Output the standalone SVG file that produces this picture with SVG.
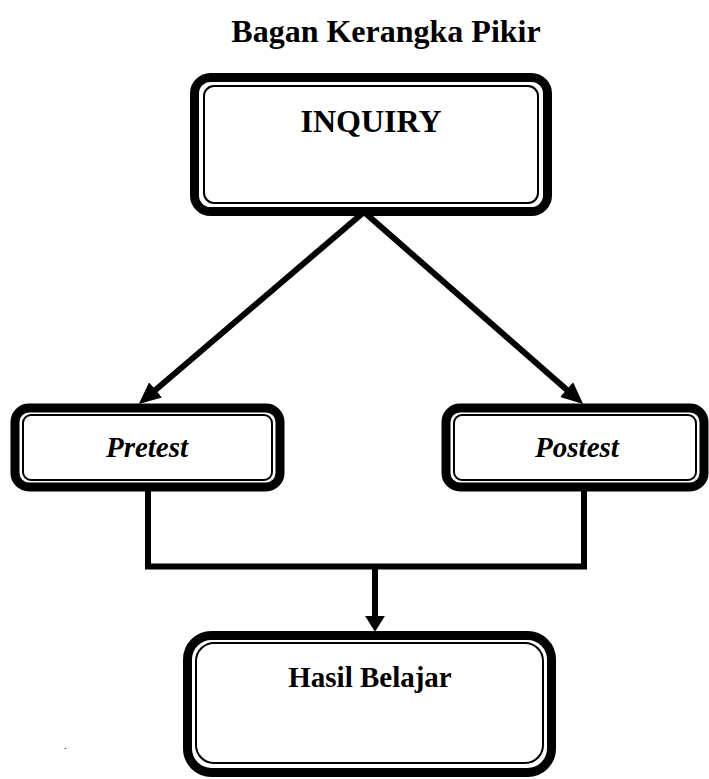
<svg xmlns="http://www.w3.org/2000/svg" width="709" height="779" viewBox="0 0 709 779">
<style>
  .outer { fill: #fff; stroke: #000; stroke-width: 9; }
  .inner { fill: none; stroke: #000; stroke-width: 2; }
  .lbl { font-family: "Liberation Serif", "Times New Roman", serif; font-weight: bold; font-size: 29px; fill: #000; text-anchor: middle; }
  .big { font-size: 32px; }
  .it { font-style: italic; }
  .conn { fill: none; stroke: #000; stroke-width: 6; }
</style>
<defs>
  <marker id="ah" markerUnits="userSpaceOnUse" markerWidth="22" markerHeight="20" viewBox="0 0 20 18" refX="4" refY="9" orient="auto">
    <path d="M0,0 L20,9 L0,18 z" fill="#000"/>
  </marker>
  <marker id="ahd" markerUnits="userSpaceOnUse" markerWidth="16" markerHeight="20" viewBox="0 0 15 19" refX="3" refY="9.5" orient="auto">
    <path d="M0,0 L15,9.5 L0,19 z" fill="#000"/>
  </marker>
</defs>
<rect width="709" height="779" fill="#fff"/>
<text class="lbl big" x="386" y="42">Bagan Kerangka Pikir</text>

<g id="connectors">
  <line class="conn" x1="364" y1="212" x2="152.2" y2="392.7" marker-end="url(#ah)"/>
  <line class="conn" x1="364" y1="212" x2="569.9" y2="392.5" marker-end="url(#ah)"/>
  <polyline class="conn" points="148,488 148,566.5 584,566.5 584,488"/>
  <line class="conn" x1="375" y1="566" x2="375" y2="619" marker-end="url(#ahd)"/>
</g>

<g id="inquiry">
  <rect class="outer" x="194.5" y="77.5" width="353" height="134" rx="16"/>
  <rect class="inner" x="204" y="86" width="334" height="117" rx="10"/>
  <text class="lbl big" x="371" y="132">INQUIRY</text>
</g>

<g id="pretest">
  <rect class="outer" x="15" y="408" width="265" height="79" rx="14"/>
  <rect class="inner" x="23" y="415" width="249" height="65" rx="8"/>
  <text class="lbl it" x="147" y="457">Pretest</text>
</g>

<g id="postest">
  <rect class="outer" x="446" y="408" width="258" height="79" rx="14"/>
  <rect class="inner" x="454" y="415" width="242" height="65" rx="8"/>
  <text class="lbl it" x="577" y="457">Postest</text>
</g>

<g id="hasil">
  <rect class="outer" x="187.5" y="635.5" width="364" height="137" rx="24"/>
  <rect class="inner" x="196" y="643" width="347" height="120" rx="18"/>
  <text class="lbl" x="370" y="687">Hasil Belajar</text>
</g>

<text x="64" y="749" font-family="Liberation Serif, serif" font-size="10" fill="#000">.</text>
</svg>
